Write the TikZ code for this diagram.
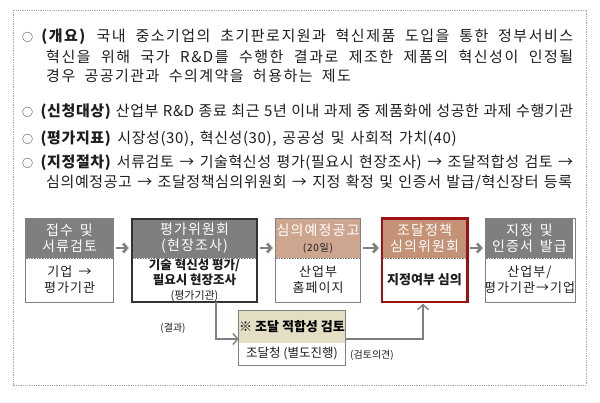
\documentclass[tikz,border=0pt]{standalone}
\usepackage{fontspec}
\setmainfont{Noto Sans CJK KR}
\newfontfamily\krsp{Noto Sans CJK KR}[LetterSpace=10,WordSpace=1.9]
\newfontfamily\krtight{Noto Sans CJK KR}[LetterSpace=4,WordSpace=1.5]
\newfontfamily\krhd{Noto Sans CJK KR}[LetterSpace=8,WordSpace=1.6]
\usetikzlibrary{arrows.meta,positioning}
\definecolor{hgray}{RGB}{127,127,127}
\definecolor{bgray}{RGB}{128,128,128}
\definecolor{htan}{RGB}{206,166,144}
\definecolor{hbrown}{RGB}{196,146,118}
\definecolor{hbeige}{RGB}{228,222,196}
\definecolor{dred}{RGB}{158,18,20}
\definecolor{framegray}{RGB}{170,170,170}
\definecolor{txt}{RGB}{30,30,30}
\newcommand{\bul}{{\fontsize{11}{11}\selectfont ○}\hspace{7pt}}
\tikzset{
  txtline/.style={anchor=west, inner sep=0pt, text=txt, font=\krsp\fontsize{15}{17}\selectfont},
  tightline/.style={anchor=west, inner sep=0pt, text=txt, font=\krtight\fontsize{15}{17}\selectfont},
  hdr/.style={inner sep=0pt, minimum height=39pt, align=center, text=white, font=\krhd\fontsize{14}{16}\selectfont},
  bdy/.style={inner sep=0pt, minimum height=44pt, align=center, text=txt, fill=white, font=\krhd\fontsize{13}{16}\selectfont},
  boxline/.style={draw=bgray, line width=1.1pt},
  sep/.style={draw=bgray, line width=0.6pt, dash pattern=on 0.8pt off 0.8pt},
  flowarrow/.style={draw=bgray, line width=2.6pt, -{Straight Barb[length=4pt,width=9pt]}},
  conn/.style={draw=bgray, line width=1.4pt, -{Straight Barb[length=5pt,width=11pt]}},
  lbl/.style={inner sep=0pt, text=txt, font=\fontsize{10}{12}\selectfont},
}
\begin{document}
\begin{tikzpicture}[x=1pt,y=-1pt]
\useasboundingbox (0,0) rectangle (600,403);
\draw[framegray, line width=0.9pt, dash pattern=on 1pt off 0.8pt] (13,10) rectangle (586,385);

% text lines
\node[txtline] (t1) at (22,37) {\makebox[551pt][s]{\bul\textbf{(개요)} 국내 중소기업의 초기판로지원과 혁신제품 도입을 통한 정부서비스}};
\node[txtline] (t2) at (46,57) {\makebox[527pt][s]{혁신을 위해 국가 R\&D를 수행한 결과로 제조한 제품의 혁신성이 인정될}};
\node[txtline] (t3) at (46,76) {경우 공공기관과 수의계약을 허용하는 제도};
\node[tightline] (t4) at (22,112) {\makebox[551pt][s]{\bul\textbf{(신청대상)} 산업부 R\&D 종료 최근 5년 이내 과제 중 제품화에 성공한 과제 수행기관}};
\node[tightline] (t5) at (22,139) {\bul\textbf{(평가지표)} 시장성(30), 혁신성(30), 공공성 및 사회적 가치(40)};
\node[tightline] (t6) at (22,163) {\makebox[551pt][s]{\bul\textbf{(지정절차)} 서류검토 → 기술혁신성 평가(필요시 현장조사) → 조달적합성 검토 →}};
\node[tightline] (t7) at (46,183) {\makebox[526pt][s]{심의예정공고 → 조달정책심의위원회 → 지정 확정 및 인증서 발급/혁신장터 등록}};

% box 1
\node[hdr, fill=hgray, minimum width=87pt] (h1) at (69.5,238.5) {접수 및\\서류검토};
\node[bdy, minimum width=87pt] (b1) at (69.5,280) {기업 →\\평가기관};
% box 2
\node[hdr, fill=hgray, minimum width=125pt] (h2) at (194.5,238.5) {평가위원회\\(현장조사)};
\node[bdy, minimum width=125pt, font=\rmfamily\fontsize{12.5}{15}\selectfont] (b2) at (194.5,280) {\textbf{기술 혁신성 평가/}\\\textbf{필요시 현장조사}\\{\fontsize{11}{13}\selectfont(평가기관)}};
% box 3
\node[hdr, fill=htan, minimum width=84pt] (h3) at (318,238.5) {심의예정공고\\{\color{txt}\fontsize{10}{12}\selectfont(20일)}};
\node[bdy, minimum width=84pt] (b3) at (318,280) {산업부\\홈페이지};
% box 4
\node[hdr, fill=hbrown, minimum width=85pt] (h4) at (424.5,238.5) {조달정책\\심의위원회};
\node[bdy, minimum width=85pt, font=\rmfamily\fontsize{13}{15}\selectfont] (b4) at (424.5,280) {\textbf{지정여부 심의}};
% box 5
\node[hdr, fill=hgray, minimum width=87pt] (h5) at (529.5,238.5) {지정 및\\인증서 발급};
\node[bdy, minimum width=87pt] (b5) at (529.5,280) {산업부/\\평가기관→기업};

% separators
\foreach \i in {1,2,3,4,5} {\draw[sep] (h\i.south west) -- (h\i.south east);}
% borders
\draw[boxline] (h1.north west) rectangle (b1.south east);
\draw[draw=black!80, line width=1.5pt] (h2.north west) rectangle (b2.south east);
\draw[boxline] (h3.north west) rectangle (b3.south east);
\draw[draw=dred, line width=2.6pt] (h4.north west) rectangle (b4.south east);
\draw[boxline] (h5.north west) rectangle (b5.south east);

% sub box
\node[inner sep=0pt, fill=hbeige, minimum width=106pt, minimum height=32pt, text=black, font=\fontsize{13}{14}\selectfont\bfseries] (hs) at (292,327) {※ 조달 적합성 검토};
\node[inner sep=0pt, fill=white, minimum width=106pt, minimum height=22pt, text=txt, font=\fontsize{12.5}{14}\selectfont] (bs) at (292,354) {조달청 (별도진행)};
\draw[boxline] (hs.north west) rectangle (bs.south east);

% flow arrows
\draw[flowarrow] ([xshift=3pt,yshift=-9.5pt]h1.east) -- ([xshift=-3pt,yshift=-9.5pt]h2.west);
\draw[flowarrow] ([xshift=3pt,yshift=-9.5pt]h2.east) -- ([xshift=-3pt,yshift=-9.5pt]h3.west);
\draw[flowarrow] ([xshift=3pt,yshift=-9.5pt]h3.east) -- ([xshift=-3pt,yshift=-9.5pt]h4.west);
\draw[flowarrow] ([xshift=3pt,yshift=-9.5pt]h4.east) -- ([xshift=-3pt,yshift=-9.5pt]h5.west);

% connectors
\coordinate (c1) at (216,339);
\draw[conn] (b2.south -| c1) -- (c1) -- (hs.west |- c1);
\coordinate (c2) at (423,339);
\draw[conn] (hs.east |- c2) -- (c2) -- ([yshift=-1.5pt]b4.south -| c2);

\node[lbl] (l1) at (173,328) {(결과)};
\node[lbl] (l2) at (372,355) {(검토의견)};
\end{tikzpicture}
\end{document}
